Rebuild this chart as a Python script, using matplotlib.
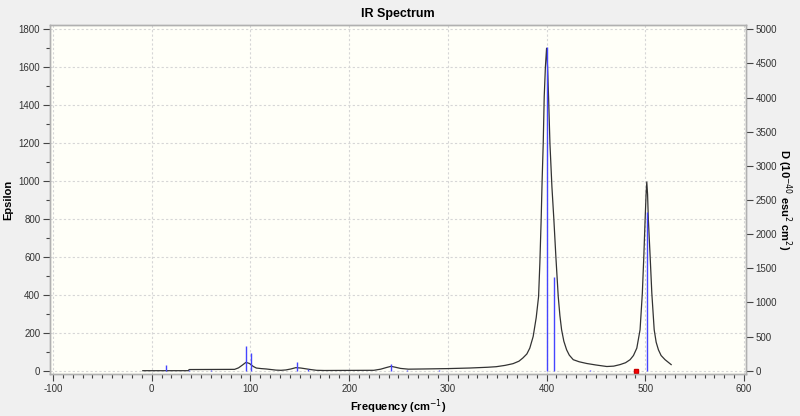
import matplotlib.pyplot as plt
from matplotlib.ticker import MultipleLocator

# broadened spectrum (frequency cm-1, epsilon)
freq = [-9, 37, 38, 84, 88, 92, 95.5, 99, 103, 106, 111, 116, 121, 126, 131, 136, 141, 146,
        151, 156, 161, 167, 175, 225, 232, 238, 242.5, 247, 252, 260, 275, 300, 322, 340, 349,
        358, 366, 372, 376, 380, 383, 386.4, 389.5, 391.9, 393.2, 394.5, 395.5, 396.6, 397.6,
        398.8, 400, 401, 402, 403.4, 405.4, 407.4, 409.4, 411.8, 413.5, 415.2, 417.5, 420.3,
        423, 427, 433, 440.6, 450, 461, 468, 474.4, 480, 484.6, 488, 491.4, 494.7, 497, 498.5,
        499.8, 500.8, 501.5, 502.3, 503.1, 504.9, 506.6, 509, 511, 513.3, 516, 520, 526.2]
eps = [0, 0, 6, 7, 15, 30, 44, 38, 22, 14, 11, 9, 6, 3, 2, 4, 9, 16,
       14, 10, 6, 2, 1, 2, 8, 17, 23, 18, 12, 8, 9, 11, 14, 18, 21,
       28, 37, 50, 67, 88, 119, 180, 280, 391, 568, 795, 1005, 1198, 1444,
       1600, 1700, 1600, 1444, 1198, 970, 795, 602, 391, 290, 216, 155, 110,
       82, 58, 47, 38, 30, 22, 24, 32, 42, 58, 80, 119, 216, 409, 602,
       795, 930, 995, 930, 795, 602, 409, 216, 150, 110, 80, 58, 32]

# stick spectrum (frequency, D in 1e-40 esu^2 cm^2)
stick_freq = [15, 38, 60, 95.5, 100.5, 147, 158, 242.5, 259, 291, 400, 408, 444, 501.5]
stick_d = [90, 15, 15, 355, 265, 130, 20, 100, 15, 15, 4740, 1365, 15, 2320]

marker_freq = [490.7]
marker_eps = [0]

plt.rcParams.update({
    "font.family": ["Liberation Sans", "DejaVu Sans"],
    "font.size": 7,
    "axes.unicode_minus": False,
})

fig = plt.figure(figsize=(8, 4.16), dpi=100, facecolor="#F0F0F0")
ax = fig.add_axes([0.0625, 0.101, 0.87, 0.839])
ax.set_facecolor("#FFFFF8")

ax.set_xlim(-103, 602)
ax.set_ylim(-17.4, 1822.7)
ax.xaxis.set_major_locator(MultipleLocator(100))
ax.xaxis.set_minor_locator(MultipleLocator(10))
ax.yaxis.set_major_locator(MultipleLocator(200))
ax.yaxis.set_minor_locator(MultipleLocator(100))
ax.grid(True, which="major", color="#D6D6D6", linestyle=(0, (2, 2)), linewidth=0.8)
ax.set_axisbelow(True)

ax2 = ax.twinx()
k = 5000 / 1800
ax2.set_ylim(-17.4 * k, 1822.7 * k)
ax2.yaxis.set_major_locator(MultipleLocator(500))

ax2.vlines(stick_freq, 0, stick_d, color="#4545FF", linewidth=1.0)
ax.plot(freq, eps, color="#333333", linewidth=0.9, zorder=5)
ax.plot(marker_freq, marker_eps, marker="s", markersize=3.5, color="red",
        markeredgecolor="#CC0000", linestyle="none", zorder=6, clip_on=False)

for a in (ax, ax2):
    for side in ("left", "right", "top", "bottom"):
        a.spines[side].set_color("#B0B0B0")
        a.spines[side].set_linewidth(1.0)
    a.tick_params(which="major", direction="out", length=5, width=0.8,
                  color="#444444", labelcolor="#333333", labelsize=7, pad=2)
    a.tick_params(which="minor", direction="out", length=3, width=0.8, color="#444444")

ax.set_title("IR Spectrum", fontsize=9, fontweight="bold", pad=6)
ax.set_xlabel("Frequency (cm$^{-1}$)", fontsize=8, fontweight="bold", labelpad=3)
ax.set_ylabel("Epsilon", fontsize=8, fontweight="bold", labelpad=4)
ax2.set_ylabel("D (10$^{-40}$ esu$^{2}$ cm$^{2}$)", fontsize=8, fontweight="bold",
               rotation=-90, labelpad=12)

fig.savefig("out.png", dpi=100, facecolor=fig.get_facecolor())
